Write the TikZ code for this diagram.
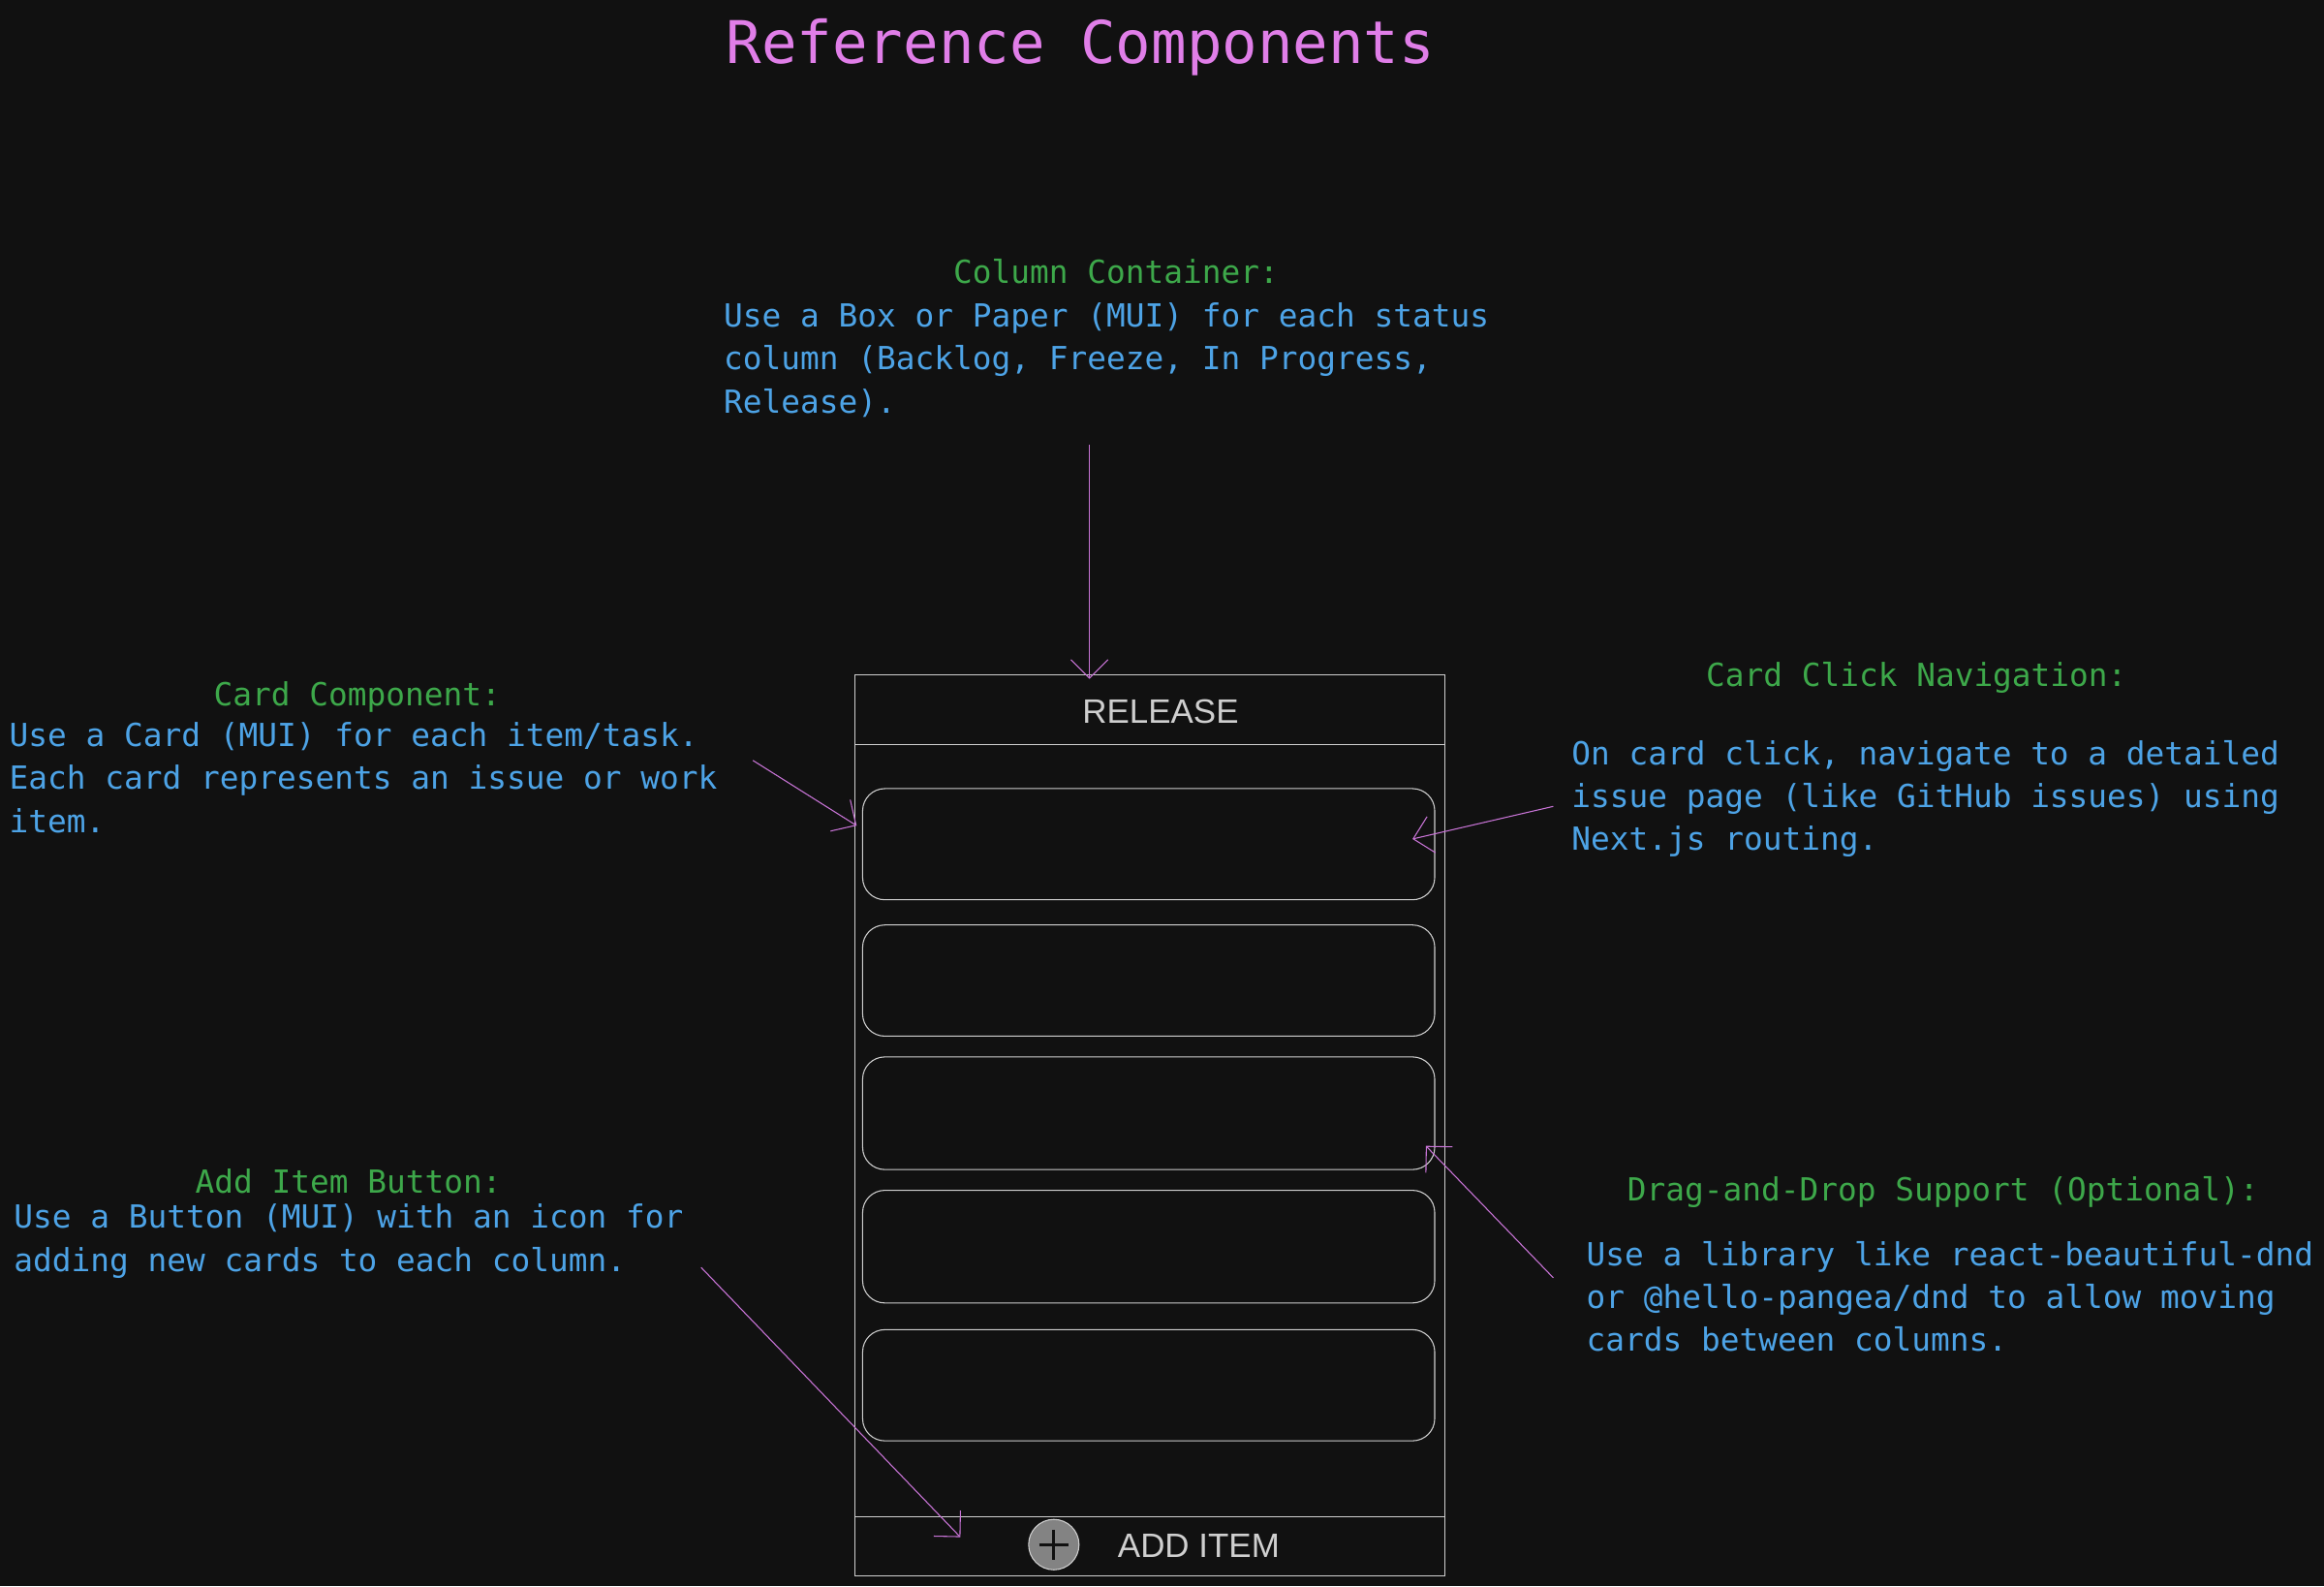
\documentclass[tikz,border=0pt]{standalone}
\usepackage{fontspec}
\setmainfont{Liberation Sans}
\setmonofont{DejaVu Sans Mono}
\usetikzlibrary{positioning,arrows.meta}
\definecolor{bg}{HTML}{111111}
\definecolor{ttl}{HTML}{E07EE8}
\definecolor{hd}{HTML}{3DA84A}
\definecolor{txt}{HTML}{4DA3E6}
\definecolor{ln}{HTML}{CFCFCF}
\definecolor{arr}{HTML}{C874D6}
\tikzset{
    heading/.style={text=hd, font=\ttfamily\fontsize{12.2}{16.5}\selectfont},
    body/.style={text=txt, font=\ttfamily\fontsize{12.2}{16.5}\selectfont, align=left, anchor=north west, inner sep=0pt},
    card/.style={draw=ln, thin, rounded corners=3mm},
    note/.style={arr, thin, -{Straight Barb[length=2.5mm]}},
}
\begin{document}
\begin{tikzpicture}[x=0.2mm, y=-0.2mm]
\fill[bg] (0,0) rectangle (1568,1070);
\useasboundingbox (0,0) rectangle (1568,1070);

% ============================
\node[text=ttl, font=\ttfamily\fontsize{22.6}{26}\selectfont] (title) at (729,32) {Reference Components};

% ============================ column
\draw[ln, thin] (577,455) rectangle (975,1063);
\draw[ln, thin] (577,502) -- (975,502);
\draw[ln, thin] (577,1023) -- (975,1023);
\node[text=ln, font=\fontsize{13}{15}\selectfont] (release) at (783,480) {RELEASE};

\draw[card] (582,532) rectangle (968,607);
\draw[card] (582,624) rectangle (968,699);
\draw[card] (582,713) rectangle (968,789);
\draw[card] (582,803) rectangle (968,879);
\draw[card] (582,897) rectangle (968,972);

\node[circle, draw=ln, fill=ln!60!bg, minimum size=6.8mm, inner sep=0pt] (plus) at (711,1042) {};
\draw[bg, line width=1pt] (plus.center) ++(-10,0) -- ++(20,0);
\draw[bg, line width=1pt] (plus.center) ++(0,-10) -- ++(0,20);
\node[text=ln, font=\fontsize{13}{15}\selectfont, anchor=west] (additem) at (748,1043) {ADD ITEM};

% ============================ notes
\node[heading] (colhead) at (753,183) {Column Container:};
\node[body] (coltext) at (488,204) {Use a Box or Paper (MUI) for each status\\column (Backlog, Freeze, In Progress,\\Release).};

\node[heading] (cardhead) at (241,470) {Card Component:};
\node[body] (cardtext) at (6,487) {Use a Card (MUI) for each item/task.\\Each card represents an issue or work\\item.};

\node[heading] (clickhead) at (1293,457) {Card Click Navigation:};
\node[body] (clicktext) at (1060,499) {On card click, navigate to a detailed\\issue page (like GitHub issues) using\\Next.js routing.};

\node[heading] (addhead) at (235,797) {Add Item Button:};
\node[body] (addtext) at (9,812) {Use a Button (MUI) with an icon for\\adding new cards to each column.};

\node[heading] (draghead) at (1311,804) {Drag-and-Drop Support (Optional):};
\node[body] (dragtext) at (1070,837) {Use a library like react-beautiful-dnd\\or @hello-pangea/dnd to allow moving\\cards between columns.};

% ============================ arrows
\coordinate (colfrom) at (735,300);   \coordinate (colto) at (735,458);
\coordinate (cardfrom) at (508,513);  \coordinate (cardto) at (578,557);
\coordinate (clickfrom) at (1048,544);\coordinate (clickto) at (953,566);
\coordinate (dragfrom) at (1048,862); \coordinate (dragto) at (962,773);
\coordinate (addfrom) at (473,855);   \coordinate (addto) at (648,1037);

\draw[note] (colfrom) -- (colto);
\draw[note] (cardfrom) -- (cardto);
\draw[note] (clickfrom) -- (clickto);
\draw[note] (dragfrom) -- (dragto);
\draw[note] (addfrom) -- (addto);

\end{tikzpicture}
\end{document}
